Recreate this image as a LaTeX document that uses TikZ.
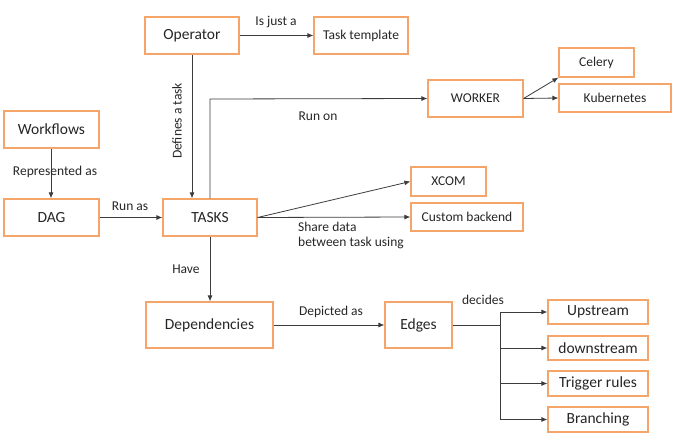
\documentclass[tikz,border=0pt]{standalone}
\usepackage{fontspec}
\setmainfont{Carlito}
\usetikzlibrary{arrows.meta}
\definecolor{boxorange}{RGB}{245,165,105}
\definecolor{linegray}{RGB}{60,60,60}
\tikzset{
  box/.style={draw=boxorange, line width=1.2pt, fill=white, inner sep=0pt, font=\fontsize{15.5}{17}\selectfont, text=black!85},
  sbox/.style={box, font=\fontsize{13.5}{15}\selectfont},
  conn/.style={draw=linegray, line width=0.8pt, -{Latex[length=6pt,width=5pt]}},
  plain/.style={draw=linegray, line width=0.8pt},
  lbl/.style={font=\fontsize{13.5}{15}\selectfont, text=black!85, inner sep=0pt},
}
\newcommand{\mkbox}[6]{\node[#1, minimum width=#4pt-#2pt, minimum height=#5pt-#3pt] (#6) at ({(#2+#4)/2}, {(#3+#5)/2})}
\begin{document}
\begin{tikzpicture}[x=1pt, y=-1pt]
\useasboundingbox (0,0) rectangle (680,441);
% boxes
\mkbox{box}{145}{17}{239}{54}{op} {Operator};
\mkbox{sbox}{314}{17}{408}{54}{tt} {Task template};
\mkbox{box}{4}{111}{99}{148}{wf} {Workflows};
\mkbox{box}{4}{199}{99}{236}{dag} {DAG};
\mkbox{box}{163}{199}{257}{236}{tasks} {TASKS};
\mkbox{sbox}{428}{80}{523}{117}{worker} {WORKER};
\mkbox{sbox}{559}{48}{634}{77}{celery} {Celery};
\mkbox{sbox}{559}{84}{671}{112}{kube} {Kubernetes};
\mkbox{sbox}{411}{167}{486}{196}{xcom} {XCOM};
\mkbox{sbox}{411}{203}{523}{231}{custom} {Custom backend};
\mkbox{box}{146}{302}{273}{348}{dep} {Dependencies};
\mkbox{box}{385}{302}{452}{348}{edges} {Edges};
\mkbox{box}{548}{300}{648}{324}{up} {Upstream};
\mkbox{box}{548}{336}{648}{360}{down} {downstream};
\mkbox{box}{548}{371}{648}{396}{trig} {Trigger rules};
\mkbox{box}{548}{407}{648}{432}{branch} {Branching};
% connectors
\draw[conn] (op.east) -- (tt.west);
\node[lbl] (lisjust) at (276,22) {Is just a};
\draw[conn] (op.south -| 192,0) -- (tasks.north -| 192,0);
\node[lbl, rotate=90] (ldef) at (177,121) {Defines a task};
\draw[conn] (wf.south -| 51,0) -- (dag.north -| 51,0);
\node[lbl] (lrep) at (55,172) {Represented as};
\draw[conn] (dag.east) -- (tasks.west);
\node[lbl] (lrunas) at (130,206) {Run as};
\coordinate (runcorner) at (210,99);
\draw[conn] (tasks.north -| runcorner) -- (runcorner) -- (worker.west);
\node[lbl] (lrunon) at (318,116) {Run on};
\draw[conn] (worker.east) -- (celery.south west);
\draw[conn] (worker.east) -- (kube.west);
\draw[conn] (tasks.east) -- (xcom.west);
\draw[conn] (tasks.east) -- (custom.west);
\node[lbl, anchor=north west, align=left] (lshare) at (298,222) {Share data\\between task using};
\draw[conn] (tasks.south -| runcorner) -- (dep.north -| runcorner);
\node[lbl] (lhave) at (186,269) {Have};
\draw[conn] (dep.east) -- (edges.west);
\node[lbl] (ldep) at (331,312) {Depicted as};
\node[lbl] (ldec) at (483,300) {decides};
\coordinate (bus) at (500,324);
\draw[plain] (edges.east) -- (edges.east -| bus);
\draw[plain] (up.west -| bus) -- (branch.west -| bus);
\draw[conn] (up.west -| bus) -- (up.west);
\draw[conn] (down.west -| bus) -- (down.west);
\draw[conn] (trig.west -| bus) -- (trig.west);
\draw[conn] (branch.west -| bus) -- (branch.west);
\end{tikzpicture}
\end{document}
